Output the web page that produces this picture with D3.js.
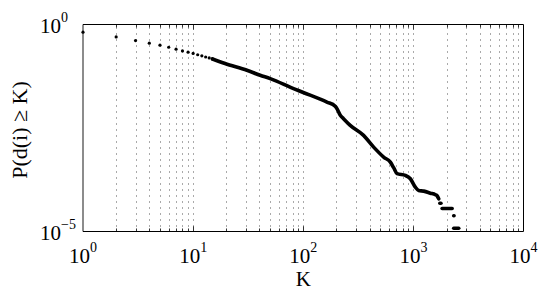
<!DOCTYPE html>
<html>
<head>
<meta charset="utf-8">
<script src="https://cdn.jsdelivr.net/npm/d3@7/dist/d3.min.js"></script>
<style>
  html, body { margin: 0; padding: 0; background: #fff; }
  svg { display: block; }
  text { font-family: "Liberation Serif", "DejaVu Serif", serif; fill: #000; }
</style>
</head>
<body>
<svg id="chart" width="545" height="292"></svg>
<script>
// ---- data ----
const dotK = [1, 2, 3, 4, 5, 6, 7, 8, 9, 10, 11, 12, 13, 14, 15];
const dotP = [0.651, 0.501, 0.410, 0.353, 0.316, 0.282, 0.253, 0.230, 0.214, 0.200, 0.186, 0.175, 0.164, 0.156, 0.147];

const curveK = [15, 19.5, 30.8, 40.6, 50.1, 81.6, 100, 164, 195, 204, 217, 232, 267, 353, 436, 537, 618, 662, 711, 846, 939, 1042, 1117, 1242, 1429, 1585, 1641, 1699];
const curveP = [0.147, 0.114, 0.0785, 0.0594, 0.0494, 0.0283, 0.0228, 0.0134, 0.0106, 0.00893, 0.0064, 0.00532, 0.00366, 0.0021, 0.00109, 0.000627, 0.000474, 0.000348, 0.000249, 0.000226, 0.000188, 0.000118, 9.8e-5, 9.44e-5, 8.43e-5, 7.73e-5, 7.31e-5, 6.18e-5];

const tailKStart = [1740, 1824, 2324, 2324];
const tailKEnd   = [1780, 2249, 2340, 2582];
const tailP      = [4.8e-5, 3.6e-5, 2.4e-5, 1.2e-5];

const xTickValues = [1, 10, 100, 1000, 10000];
const xTickExps = ["0", "1", "2", "3", "4"];
const yTickValues = [1, 1e-5];
const yTickExps = ["0", "\u22125"];
const xLabel = "K";
const yLabel = "P(d(i) \u2265 K)";

// ---- layout ----
const svg = d3.select("#chart");
const x = d3.scaleLog().domain([1, 10000]).range([83, 523.5]);
const y = d3.scaleLog().domain([1e-5, 1]).range([231.5, 24.5]);

// grid: dotted vertical lines at every 1..9 x decade
const gridVals = [];
for (let e = 0; e < 4; e++) for (let m = 1; m <= 9; m++) {
  const v = m * Math.pow(10, e);
  if (v > 1 && v < 10000) gridVals.push(v);
}
svg.append("g").selectAll("line").data(gridVals).join("line")
  .attr("x1", d => Math.round(x(d)) + 0.5).attr("x2", d => Math.round(x(d)) + 0.5)
  .attr("y1", y(1) + 3).attr("y2", y(1e-5))
  .attr("stroke", "#555").attr("stroke-width", 1)
  .attr("stroke-dasharray", "1 5");

// minor / major ticks on top and bottom (inside)
const tickG = svg.append("g").attr("stroke", "#333").attr("stroke-width", 1);
gridVals.concat([10, 100, 1000]).forEach(v => {
  const major = xTickValues.includes(v);
  const len = major ? 5 : 3;
  const px = Math.round(x(v)) + 0.5;
  tickG.append("line").attr("x1", px).attr("x2", px).attr("y1", y(1)).attr("y2", y(1) + len);
  tickG.append("line").attr("x1", px).attr("x2", px).attr("y1", y(1e-5)).attr("y2", y(1e-5) - len);
});

// frame
svg.append("line").attr("x1", x(1)).attr("x2", x(1)).attr("y1", y(1)).attr("y2", y(1e-5))
  .attr("stroke", "#666").attr("stroke-width", 1.5);
svg.append("line").attr("x1", x(1)).attr("x2", x(10000)).attr("y1", y(1)).attr("y2", y(1))
  .attr("stroke", "#000").attr("stroke-width", 1);
svg.append("line").attr("x1", x(1)).attr("x2", x(10000)).attr("y1", y(1e-5)).attr("y2", y(1e-5))
  .attr("stroke", "#000").attr("stroke-width", 1);
svg.append("line").attr("x1", x(10000)).attr("x2", x(10000)).attr("y1", y(1)).attr("y2", y(1e-5))
  .attr("stroke", "#000").attr("stroke-width", 1);

// data: main curve (dense markers rendered as thick line)
const curve = curveK.map((k, i) => [k, curveP[i]]);
svg.append("path").datum(curve)
  .attr("d", d3.line().x(d => x(d[0])).y(d => y(d[1])).curve(d3.curveMonotoneX))
  .attr("fill", "none").attr("stroke", "#000").attr("stroke-width", 3.6)
  .attr("stroke-linecap", "round").attr("stroke-linejoin", "round");

// sparse markers
svg.append("g").selectAll("circle").data(dotK.map((k, i) => [k, dotP[i]])).join("circle")
  .attr("cx", d => x(d[0])).attr("cy", d => y(d[1])).attr("r", 1.6).attr("fill", "#000");

// tail runs
svg.append("g").selectAll("line").data(tailP.map((p, i) => [tailKStart[i], tailKEnd[i], p])).join("line")
  .attr("x1", d => x(d[0])).attr("x2", d => x(d[1]))
  .attr("y1", d => y(d[2])).attr("y2", d => y(d[2]))
  .attr("stroke", "#000").attr("stroke-width", 3.6).attr("stroke-linecap", "round");

// x tick labels
xTickValues.forEach((v, i) => {
  const t = svg.append("text").attr("x", x(v)).attr("y", 263)
    .attr("text-anchor", "middle").style("font-size", "21px");
  t.append("tspan").text("10");
  t.append("tspan").attr("dy", -11).style("font-size", "14px").text(xTickExps[i]);
});

// y tick labels
yTickValues.forEach((v, i) => {
  const t = svg.append("text").attr("x", 40).attr("y", y(v) + 8)
    .attr("text-anchor", "start").style("font-size", "21px");
  t.append("tspan").text("10");
  t.append("tspan").attr("dy", -11).style("font-size", "14px").text(yTickExps[i]);
});

// axis labels
svg.append("text").attr("x", x(100)).attr("y", 286).attr("text-anchor", "middle")
  .style("font-size", "21px").text(xLabel);
svg.append("text").attr("transform", "translate(27," + ((y(1) + y(1e-5)) / 2 + 2) + ") rotate(-90)")
  .attr("text-anchor", "middle").style("font-size", "22px").text(yLabel);
</script>
</body>
</html>
